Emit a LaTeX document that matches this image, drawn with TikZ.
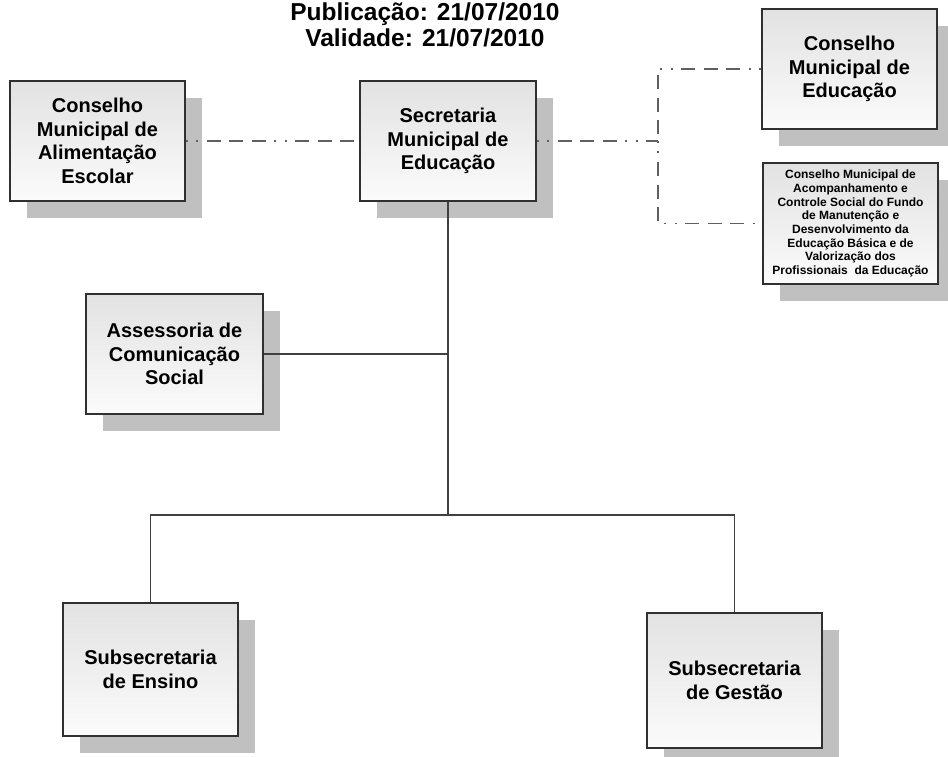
\documentclass[tikz,border=0pt]{standalone}
\usepackage{fontspec}
\setmainfont{Liberation Sans}
\usetikzlibrary{shadows}
\definecolor{shadowgray}{HTML}{C0C0C0}
\definecolor{boxtop}{HTML}{E2E2E2}
\definecolor{boxbot}{HTML}{FBFBFB}
\definecolor{boxline}{HTML}{303030}
\definecolor{solidline}{HTML}{404040}
\definecolor{dashline}{HTML}{606060}
\tikzset{
  orgbox/.style={draw=boxline, line width=1.1pt, top color=boxtop, bottom color=boxbot,
    align=center, inner sep=0pt, font=\bfseries\fontsize{20}{23.5}\selectfont,
    drop shadow={shadow xshift=17pt, shadow yshift=-17pt, fill=shadowgray, opacity=1}},
  smallbox/.style={orgbox, font=\bfseries\fontsize{12}{13.7}\selectfont},
  titletext/.style={font=\bfseries\fontsize{24.5}{26}\selectfont, inner sep=0pt},
  reports/.style={draw=solidline, line width=1.3pt},
  advisory/.style={draw=dashline, line width=1.5pt,
    dash pattern=on 2pt off 8.5pt on 2pt off 8.5pt on 14pt off 8.5pt on 14pt off 8.5pt on 14pt off 8.5pt}
}
\begin{document}
\begin{tikzpicture}[x=1pt,y=-1pt]
\useasboundingbox (0,0) rectangle (948,757);
\fill[white] (0,0) rectangle (948,757);

\node[titletext, anchor=base] (t1) at (425,21) {Publicação: 21/07/2010};
\node[titletext, anchor=base] (t2) at (425,47) {Validade: 21/07/2010};

\node[orgbox, minimum width=175pt, minimum height=120pt] (cmae) at (97.5,141)
  {Conselho\\Municipal de\\Alimentação\\Escolar};
\node[orgbox, minimum width=176pt, minimum height=120pt] (sme) at (448,141)
  {Secretaria\\Municipal de\\Educação};
\node[orgbox, minimum width=175pt, minimum height=120pt] (cme) at (849.5,69)
  {Conselho\\Municipal de\\Educação};
\node[smallbox, minimum width=175pt, minimum height=121pt] (fundeb) at (850.5,223.5)
  {Conselho Municipal de\\Acompanhamento e\\Controle Social do Fundo\\de Manutenção e\\Desenvolvimento da\\Educação Básica e de\\Valorização dos\\Profissionais\ \ da Educação};
\node[orgbox, minimum width=177pt, minimum height=120pt] (acs) at (174.5,354)
  {Assessoria de\\Comunicação\\Social};
\node[orgbox, minimum width=175pt, minimum height=133pt] (ensino) at (150.5,669.5)
  {Subsecretaria\\de Ensino};
\node[orgbox, minimum width=175pt, minimum height=135pt] (gestao) at (734.5,680.5)
  {Subsecretaria\\de Gestão};

\coordinate (bus) at (448,515);
\coordinate (junc) at (658,141);

% solid reporting lines
\draw[reports] (sme.south) -- (bus);
\draw[reports] (acs.east) -- (acs.east -| sme.south);
\draw[reports] (ensino.north) |- (bus) -| (gestao.north);

% dashed advisory lines
\draw[advisory] (cmae.east) -- (sme.west);
\draw[advisory] (sme.east) -- (junc);
\draw[advisory] (cme.west) -| (junc);
\draw[advisory] (junc) |- (fundeb.west);
\end{tikzpicture}
\end{document}
